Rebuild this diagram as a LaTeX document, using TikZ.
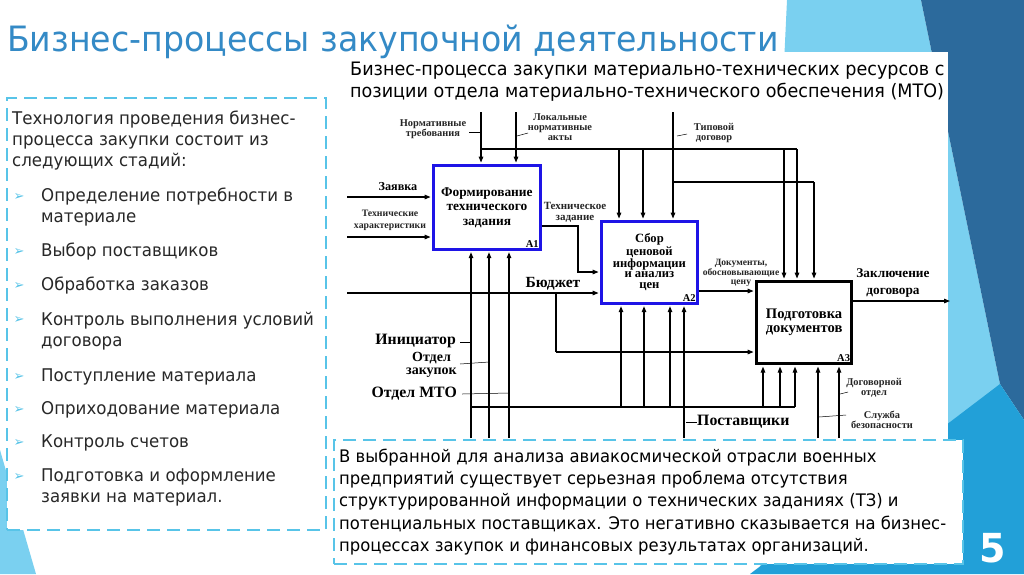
\documentclass[tikz,border=0pt]{standalone}
\usepackage{fontspec}
\setmainfont[FakeStretch=0.95]{DejaVu Sans}
\newfontfamily\dv{DejaVu Sans}
\newfontfamily\srf{Liberation Serif}
\usetikzlibrary{arrows.meta}
\definecolor{titleblue}{RGB}{52,138,198}
\definecolor{dashblue}{RGB}{88,196,232}
\definecolor{lightdeco}{RGB}{122,208,240}
\definecolor{darkdeco}{RGB}{44,106,156}
\definecolor{cyandeco}{RGB}{34,160,216}
\definecolor{idefblue}{RGB}{30,20,230}
\definecolor{bodytext}{RGB}{40,40,40}
\begin{document}
\begin{tikzpicture}[x=1pt,y=-1pt,
  dbox/.style={draw=dashblue,line width=2.2pt,dash pattern=on 13pt off 7pt,fill=white,inner sep=0pt,anchor=north west},
  ln/.style={line width=1.2pt},
  arr/.style={ln,-{Triangle[length=6pt,width=4.5pt]}},
  toa/.style={arr,shorten >=1.4pt},
  lead/.style={line width=0.5pt},
  proc/.style={draw=idefblue,line width=2.8pt,inner sep=0pt,anchor=north west,align=center,
    font=\srf\bfseries\fontsize{13.4}{14.5}\selectfont},
  tag/.style={font=\srf\bfseries\fontsize{10.5}{10.5}\selectfont,anchor=south east,inner sep=0pt},
  sm/.style={font=\srf\bfseries\fontsize{10.4}{10}\selectfont,align=center,inner sep=0pt,text=black!85},
  big/.style={font=\srf\bfseries\fontsize{15.8}{12}\selectfont,align=center,inner sep=0pt},
  body/.style={font=\fontsize{17.5}{21}\selectfont,text=bodytext,anchor=west,align=left,inner sep=0pt},
  bul/.style={font=\dv\fontsize{13}{13}\selectfont,text=dashblue,inner sep=0pt}
]
\useasboundingbox (0,0) rectangle (1024,574);
\fill[white] (0,0) rectangle (1024,574);
% decorations
\fill[lightdeco] (787,0) -- (921,0) -- (1000,384) -- (960,574) -- (760,574) -- cycle;
\fill[darkdeco] (921,0) -- (1024,0) -- (1024,420) -- (1000,384) -- cycle;
\fill[cyandeco] (750,574) -- (1000,384) -- (1024,420) -- (1024,574) -- cycle;
\fill[lightdeco] (0,450) -- (36,574) -- (0,574) -- cycle;
\fill[white] (340,52) rectangle (948,440);

% title
\node[anchor=west,text=titleblue,font=\fontsize{34.9}{40}\selectfont,inner sep=0pt] (title) at (7,42) {Бизнес-процессы закупочной деятельности};
\node[anchor=north west,align=left,font=\fontsize{18.5}{22}\selectfont,inner sep=0pt] (sub) at (350,62)
 {Бизнес-процесса закупки материально-технических ресурсов с\\позиции отдела материально-технического обеспечения (МТО)};

% left box
\node[dbox,minimum width=319pt,minimum height=432pt] (lbox) at (6,97) {};
\node[body,anchor=north west] (intro) at (12,111) {Технология проведения бизнес-\\процесса закупки состоит из\\следующих стадий:};
\node[bul] (b1) at (19,197) {➢};
\node[body] (i1) at (41,207.5) {Определение потребности в\\материале};
\node[bul] (b2) at (19,252) {➢};
\node[body] (i2) at (41,252) {Выбор поставщиков};
\node[bul] (b3) at (19,286) {➢};
\node[body] (i3) at (41,286) {Обработка заказов};
\node[bul] (b4) at (19,320) {➢};
\node[body] (i4) at (41,331) {Контроль выполнения условий\\договора};
\node[bul] (b5) at (19,377) {➢};
\node[body] (i5) at (41,377) {Поступление материала};
\node[bul] (b6) at (19,410) {➢};
\node[body] (i6) at (41,410) {Оприходование материала};
\node[bul] (b7) at (19,443) {➢};
\node[body] (i7) at (41,443) {Контроль счетов};
\node[bul] (b8) at (19,477) {➢};
\node[body] (i8) at (41,487) {Подготовка и оформление\\заявки на материал.};

% IDEF0 boxes
\node[proc,minimum width=107pt,minimum height=84pt] (A1) at (432,164) {Формирование\\технического\\задания};
\node[proc,minimum width=96pt,minimum height=82pt,font=\srf\bfseries\fontsize{12.6}{10.8}\selectfont] (A2) at (600,220) {Сбор\\ценовой\\информации\\и анализ\\цен};
\node[proc,draw=black,line width=3.2pt,minimum width=95pt,minimum height=82pt,font=\srf\bfseries\fontsize{14.6}{14}\selectfont] (A3) at (755,280) {Подготовка\\документов};
\node[tag] (A1t) at ([xshift=-3pt,yshift=3pt]A1.south east) {A1};
\node[tag] (A2t) at ([xshift=-3pt,yshift=3pt]A2.south east) {A2};
\node[tag] (A3t) at ([xshift=-3pt,yshift=3pt]A3.south east) {A3};

% controls
\coordinate (c1) at (481,112);
\coordinate (c2) at (516,112);
\coordinate (c3) at (673,112);
\coordinate (bL) at (481,149);
\coordinate (bR) at (797,149);
\coordinate (b2L) at (673,182);
\coordinate (b2R) at (814,182);
\draw[toa] (c1) -- (c1 |- A1.north);
\draw[toa] (c2) -- (c2 |- A1.north);
\draw[ln] (bL) -- (bR);
\draw[toa] (619,149) -- (619,0 |- A2.north);
\draw[toa] (643,149) -- (643,0 |- A2.north);
\draw[toa] (784,149) -- (784,0 |- A3.north);
\draw[toa] (bR) -- (bR |- A3.north);
\draw[toa] (c3) -- (c3 |- A2.north);
\draw[ln] (b2L) -- (b2R);
\draw[toa] (b2R) -- (b2R |- A3.north);

% inputs
\coordinate (in1) at (347,197);
\coordinate (in2) at (347,237);
\coordinate (in3) at (347,293);
\coordinate (br) at (556,293);
\coordinate (brd) at (556,352);
\draw[toa] (in1) -- (in1 -| A1.west);
\draw[toa] (in2) -- (in2 -| A1.west);
\draw[toa] (in3) -- (in3 -| A2.west);
\draw[ln] (br) -- (brd);
\draw[toa] (brd) -- (brd -| A3.west);
\coordinate (t1) at (578,226);
\coordinate (t2) at (578,272);
\draw[toa] (A1.east |- t1) -- (t1) -- (t2) -- (t2 -| A2.west);
\coordinate (d1) at (700,291);
\draw[toa] (A2.east |- d1) -- (d1 -| A3.west);
\coordinate (out) at (950,301);
\draw[arr] (A3.east |- out) -- (out);

% mechanisms
\coordinate (m1) at (471,438);
\coordinate (m2) at (489,438);
\coordinate (m3) at (509,438);
\coordinate (m4) at (684,438);
\coordinate (m5) at (818,438);
\coordinate (m6) at (839,438);
\coordinate (mbL) at (471,407);
\coordinate (mbR) at (795,407);
\draw[toa] (m1) -- (m1 |- A1.south);
\draw[toa] (m2) -- (m2 |- A1.south);
\draw[toa] (m3) -- (m3 |- A1.south);
\draw[ln] (mbL) -- (mbR);
\draw[toa] (621,407) -- (621,0 |- A2.south);
\draw[toa] (644,407) -- (644,0 |- A2.south);
\draw[toa] (670,407) -- (670,0 |- A2.south);
\draw[toa] (m4) -- (m4 |- A2.south);
\draw[toa] (763,407) -- (763,0 |- A3.south);
\draw[toa] (780,407) -- (780,0 |- A3.south);
\draw[toa] (mbR) -- (mbR |- A3.south);
\draw[toa] (m5) -- (m5 |- A3.south);
\draw[toa] (m6) -- (m6 |- A3.south);

% labels
\node[sm] (lnt) at (433,129) {Нормативные\\требования};
\draw[lead] (469,132) -- (481,132);
\node[sm] (lla) at (560,127) {Локальные\\нормативные\\акты};
\draw[lead] (517,136) -- (528,133);
\node[sm] (ltd) at (714,133) {Типовой\\договор};
\draw[lead] (677,136) -- (687,134);
\node[big,font=\srf\bfseries\fontsize{12.2}{12}\selectfont] (lz) at (398,187) {Заявка};
\node[sm,font=\srf\bfseries\fontsize{9.8}{12}\selectfont] (lth) at (390,220) {Технические\\характеристики};
\node[sm,font=\srf\bfseries\fontsize{11}{11}\selectfont] (ltz) at (575,212) {Техническое\\задание};
\node[big,font=\srf\bfseries\fontsize{15.5}{15}\selectfont] (lb) at (553,284) {Бюджет};
\node[sm,font=\srf\bfseries\fontsize{9.6}{8.7}\selectfont] (ldo) at (741,273) {Документы,\\обосновывающие\\цену};
\node[big,font=\srf\bfseries\fontsize{13.3}{17}\selectfont] (lzd) at (893,283) {Заключение\\договора};
\node[big,anchor=east] (lin) at (456,341) {Инициатор};
\draw[lead] (460,342) -- (471,342);
\node[big,anchor=east,font=\srf\bfseries\fontsize{14}{12.6}\selectfont] (lzk) at (457,365) {Отдел\\закупок};
\draw[lead] (460,364) -- (489,362);
\node[big,anchor=east] (lmto) at (457,394) {Отдел МТО};
\draw[lead] (462,394) -- (509,393);
\node[big,anchor=west] (lps) at (697,422) {Поставщики};
\draw[lead] (686,422) -- (lps.west);
\node[sm] (ldg) at (874,388) {Договорной\\отдел};
\draw[lead] (840,394) -- (848,392);
\node[sm] (lsb) at (882,420) {Служба\\безопасности};
\draw[lead] (819,417) -- (846,415);

% bottom box
\node[dbox,minimum width=629pt,minimum height=124pt] (bbox) at (333,439) {};
\node[body,text=black,font=\fontsize{17.3}{22.25}\selectfont] (btxt) at (339,502)
 {В выбранной для анализа авиакосмической отрасли военных\\предприятий существует серьезная проблема отсутствия\\структурированной информации о технических заданиях (ТЗ) и\\потенциальных поставщиках. Это негативно сказывается на бизнес-\\процессах закупок и финансовых результатах организаций.};

\node[text=white,font=\bfseries\fontsize{40}{40}\selectfont,inner sep=0pt] (pg) at (993,548) {5};
\end{tikzpicture}
\end{document}
